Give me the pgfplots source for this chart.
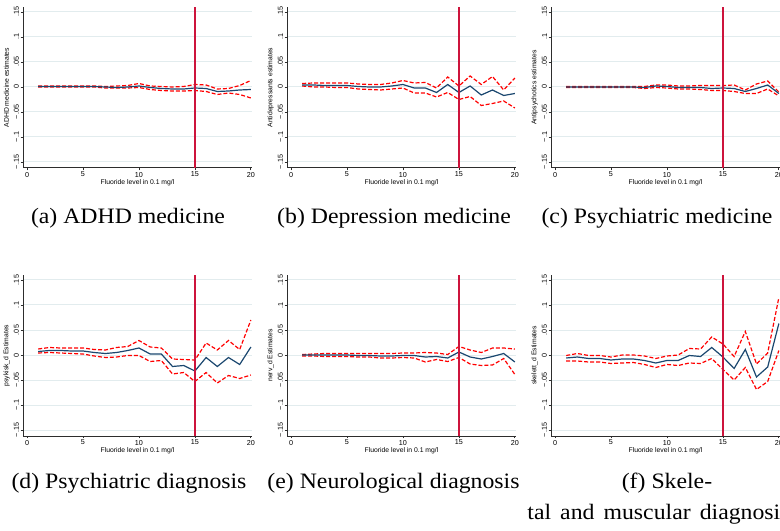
\documentclass[border=0pt]{standalone}
\usepackage{fontspec}
\setmainfont{Liberation Serif}
\newfontfamily\arialf{Liberation Sans}
\usepackage{pgfplots}
\usepackage{pgfplotstable}
\pgfplotsset{compat=1.18}
\definecolor{stnavy}{RGB}{26,71,111}
\definecolor{stred}{RGB}{255,0,0}
\definecolor{vline}{RGB}{205,20,60}
\definecolor{gridc}{RGB}{226,236,238}
\definecolor{axc}{RGB}{45,45,45}

\pgfplotstableread{
x m u l
1 0.001 0.002 0.000
2 0.001 0.002 0.000
3 0.001 0.002 0.000
4 0.001 0.002 0.000
5 0.001 0.002 0.000
6 0.001 0.002 0.000
7 0.000 0.001 -0.002
8 -0.001 0.002 -0.002
9 0.000 0.003 -0.002
10 0.002 0.007 -0.001
11 -0.001 0.002 -0.005
12 -0.003 0.001 -0.007
13 -0.004 0.000 -0.008
14 -0.004 0.001 -0.008
15 -0.002 0.005 -0.007
16 -0.003 0.004 -0.009
17 -0.009 -0.004 -0.015
18 -0.008 -0.003 -0.012
19 -0.006 0.003 -0.015
20 -0.005 0.013 -0.022
}\tadhd

\pgfplotstableread{
x m u l
1 0.004 0.007 0.002
2 0.004 0.008 0.000
3 0.003 0.008 0.000
4 0.003 0.008 -0.001
5 0.003 0.008 -0.001
6 0.001 0.006 -0.004
7 0.000 0.005 -0.005
8 0.000 0.005 -0.006
9 0.002 0.008 -0.004
10 0.005 0.013 -0.002
11 -0.002 0.008 -0.012
12 -0.002 0.009 -0.012
13 -0.011 -0.002 -0.020
14 0.005 0.020 -0.011
15 -0.011 0.002 -0.025
16 0.002 0.022 -0.019
17 -0.016 0.005 -0.037
18 -0.006 0.021 -0.033
19 -0.017 -0.006 -0.028
20 -0.013 0.018 -0.042
}\tdep

\pgfplotstableread{
x m u l
1 0.000 0.001 -0.001
2 0.000 0.001 -0.001
3 0.000 0.001 -0.001
4 0.000 0.001 -0.001
5 0.000 0.001 -0.001
6 0.000 0.001 -0.001
7 0.000 0.001 -0.001
8 -0.001 0.001 -0.003
9 0.002 0.004 -0.001
10 0.001 0.004 -0.002
11 -0.001 0.002 -0.004
12 -0.001 0.002 -0.004
13 -0.001 0.003 -0.005
14 -0.003 0.003 -0.007
15 -0.002 0.003 -0.007
16 -0.003 0.004 -0.009
17 -0.009 -0.006 -0.013
18 -0.003 0.006 -0.013
19 0.004 0.012 -0.004
20 -0.013 -0.010 -0.018
}\tpsy

\pgfplotstableread{
x m u l
1 0.007 0.012 0.004
2 0.009 0.015 0.005
3 0.009 0.014 0.004
4 0.008 0.014 0.003
5 0.008 0.014 0.002
6 0.005 0.011 -0.002
7 0.003 0.010 -0.005
8 0.005 0.015 -0.004
9 0.009 0.017 -0.001
10 0.014 0.029 -0.001
11 0.002 0.016 -0.013
12 0.002 0.014 -0.011
13 -0.023 -0.008 -0.038
14 -0.021 -0.009 -0.035
15 -0.032 -0.010 -0.053
16 -0.005 0.024 -0.035
17 -0.023 0.010 -0.056
18 -0.005 0.029 -0.041
19 -0.019 0.011 -0.047
20 0.016 0.070 -0.040
}\tpsyd

\pgfplotstableread{
x m u l
1 0.000 0.001 -0.002
2 0.000 0.002 -0.002
3 0.000 0.003 -0.003
4 0.000 0.003 -0.003
5 0.000 0.003 -0.003
6 -0.001 0.003 -0.004
7 -0.001 0.003 -0.004
8 -0.002 0.003 -0.006
9 -0.002 0.003 -0.006
10 -0.001 0.004 -0.005
11 -0.001 0.004 -0.006
12 -0.004 0.005 -0.014
13 -0.003 0.004 -0.009
14 -0.006 0.001 -0.013
15 0.006 0.017 -0.005
16 -0.004 0.010 -0.018
17 -0.008 0.005 -0.021
18 -0.003 0.014 -0.020
19 0.003 0.014 -0.007
20 -0.014 0.012 -0.039
}\tnerv

\pgfplotstableread{
x m u l
1 -0.006 -0.001 -0.012
2 -0.004 0.003 -0.012
3 -0.007 -0.001 -0.014
4 -0.007 -0.001 -0.014
5 -0.010 -0.004 -0.017
6 -0.008 0.000 -0.016
7 -0.008 0.000 -0.015
8 -0.011 -0.002 -0.019
9 -0.016 -0.007 -0.025
10 -0.011 -0.002 -0.019
11 -0.011 0.000 -0.021
12 -0.001 0.013 -0.016
13 -0.003 0.012 -0.017
14 0.015 0.036 -0.007
15 -0.004 0.022 -0.029
16 -0.027 -0.003 -0.050
17 0.011 0.047 -0.025
18 -0.044 -0.018 -0.069
19 -0.024 0.004 -0.053
20 0.063 0.115 0.009
}\tskel

\pgfplotsset{
 panel/.style={
  anchor=south west, scale only axis, width=114.5pt, height=80.5pt,
  xmin=-0.36, xmax=20.1, ymin=-0.162, ymax=0.16,
  axis x line*=bottom, axis y line*=left,
  axis line style={axc, line width=0.5pt},
  tick align=outside, major tick length=1.2pt,
  tick style={axc, line width=0.4pt},
  xtick={0,5,10,15,20},
  xticklabels={0,5,10,15,20},
  ytick={-0.15,-0.1,-0.05,0,0.05,0.1,0.15},
  yticklabels={−.15,−.1,−.05,0,.05,.1,.15},
  ymajorgrids, grid style={gridc, line width=0.5pt},
  ticklabel style={font=\arialf\fontsize{3.6}{4.2}\selectfont, inner sep=0.6pt},
  yticklabel style={rotate=90, anchor=south},
  xticklabel style={anchor=north},
  xlabel={Fluoride level in 0.1 mg/l},
  every axis x label/.style={at={(axis description cs:0.5,-0.09)}, anchor=center, font=\arialf\fontsize{3.4}{4}\selectfont},
  every axis y label/.style={at={(axis description cs:-0.072,0.5)}, rotate=90, anchor=center, font=\arialf\fontsize{3.4}{4}\selectfont},
 },
 ci/.style={stred, line width=0.6pt, dash pattern=on 2pt off 1pt},
 est/.style={stnavy, line width=0.6pt},
 vl/.style={vline, line width=0.6pt},
}

\newcommand{\panel}[4]{%
\begin{axis}[panel, at={#1}, ylabel={#2}, #4]
 \addplot[ci] table[x=x,y=u] {#3};
 \addplot[ci] table[x=x,y=l] {#3};
 \addplot[est] table[x=x,y=m] {#3};
 \addplot[vl] coordinates {(15,-0.162) (15,0.16)};
\end{axis}}

\newcommand{\subcap}[1]{\scalebox{1.08}[1]{\fontsize{11}{13}\selectfont #1}}

\begin{document}
\begin{tikzpicture}
\useasboundingbox (0,0) rectangle (390pt,265pt);
\panel{(11.5pt,181pt)}{ADHD medicine estimates}{\tadhd}{}
\panel{(143.5pt,181pt)}{Antidepressants estimates}{\tdep}{}
\panel{(275.5pt,181pt)}{Antipsychotics estimates}{\tpsy}{}
\panel{(11.5pt,47pt)}{psykisk\_d Estimates}{\tpsyd}{}
\panel{(143.5pt,47pt)}{nerv\_d Estimates}{\tnerv}{}
\panel{(275.5pt,47pt)}{skelett\_d Estimates}{\tskel}{}
\node[anchor=center, inner sep=0pt] at (64pt,156pt) {\subcap{(a) ADHD medicine}};
\node[anchor=center, inner sep=0pt] at (197pt,156pt) {\subcap{(b) Depression medicine}};
\node[anchor=center, inner sep=0pt] at (328.5pt,156pt) {\subcap{(c) Psychiatric medicine}};
\node[anchor=center, inner sep=0pt] at (64.5pt,23.5pt) {\subcap{(d) Psychiatric diagnosis}};
\node[anchor=center, inner sep=0pt] at (196.75pt,23.5pt) {\subcap{(e) Neurological diagnosis}};
\node[anchor=center, inner sep=0pt] at (333.5pt,23.5pt) {\subcap{(f) Skele-}};
\node[anchor=west, inner sep=0pt] at (263.5pt,8pt) {\subcap{tal\hspace{4.2pt}and\hspace{4.2pt}muscular\hspace{4.2pt}diagnosis}};
\end{tikzpicture}
\end{document}
